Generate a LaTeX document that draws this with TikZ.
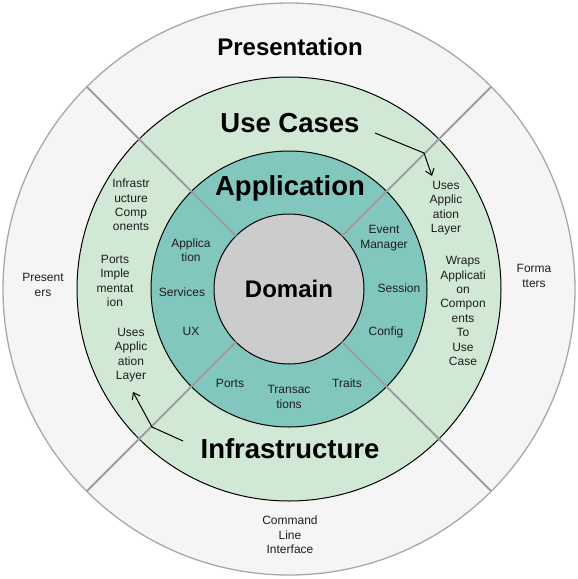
\documentclass[tikz,border=0pt]{standalone}
\usepackage{fontspec}
\setmainfont{Liberation Sans}
\usetikzlibrary{arrows.meta}
\definecolor{outerfill}{HTML}{F5F5F5}
\definecolor{outerdraw}{HTML}{A8A8A8}
\definecolor{divgrey}{HTML}{9E9E9E}
\definecolor{greenfill}{HTML}{D0E8D4}
\definecolor{tealfill}{HTML}{82C7BD}
\definecolor{domainfill}{HTML}{CCCCCC}
\definecolor{textdark}{HTML}{1E1E1E}
\begin{document}
\begin{tikzpicture}[x=1pt,y=-1pt,
  ring/.style={circle, inner sep=0pt, outer sep=0pt, draw=black, line width=1pt},
  divider/.style={draw=divgrey, line width=2pt},
  bigtitle/.style={font=\fontsize{27.5}{30}\selectfont\bfseries, anchor=base, inner sep=0pt},
  midtitle/.style={font=\fontsize{24}{27}\selectfont\bfseries, anchor=base, inner sep=0pt},
  small/.style={font=\fontsize{12}{14.4}\selectfont, align=center, inner sep=0pt, text=textdark},
  pointer/.style={draw=black, line width=1pt, -{Straight Barb[length=6pt, width=9pt]}}
]
\useasboundingbox (0,0) rectangle (578,579);
\coordinate (c) at (289,289);
\node[ring, draw=outerdraw, line width=1.3pt, fill=outerfill, minimum size=572pt] (outer) at (c) {};
\node[ring, fill=greenfill, minimum size=424pt] (green) at (c) {};
\node[ring, fill=tealfill, minimum size=276pt] (teal) at (c) {};
\node[ring, fill=domainfill, minimum size=150pt] (domain) at (c) {};
\draw[divider] (outer.45) -- (domain.45);
\draw[divider] (outer.135) -- (domain.135);
\draw[divider] (outer.225) -- (domain.225);
\draw[divider] (outer.315) -- (domain.315);

% titles
\node[midtitle] (presentation) at (290,55) {Presentation};
\node[bigtitle] (usecases) at (290,132) {Use Cases};
\node[bigtitle] (application) at (290,195) {Application};
\node[midtitle] (domaintitle) at (289,297) {Domain};
\node[bigtitle] (infra) at (290,458) {Infrastructure};

% outer ring texts
\node[small] (presenters) at (43,285) {Present\\ers};
\node[small] (formatters) at (534,276) {Forma\\tters};
\node[small] (cli) at (290,535) {Command\\Line\\Interface};

% green ring, left
\node[small] (infracomp) at (131,205) {Infrastr\\ucture\\Comp\\onents};
\node[small] (portsimpl) at (115,281) {Ports\\Imple\\mentat\\ion};
\node[small] (usesL) at (131,355) {Uses\\Applic\\ation\\Layer};

% green ring, right
\node[small] (usesR) at (446,208) {Uses\\Applic\\ation\\Layer};
\node[small] (wraps) at (463,311) {Wraps\\Applicati\\on\\Compon\\ents\\To\\Use\\Case};

% teal ring
\node[small] (appl) at (191,250) {Applica\\tion};
\node[small] (services) at (182,292) {Services};
\node[small] (ux) at (191,331) {UX};
\node[small] (ports) at (230,383) {Ports};
\node[small] (transac) at (289,397) {Transac\\tions};
\node[small] (traits) at (347,383) {Traits};
\node[small] (event) at (384,238) {Event\\Manager};
\node[small] (session) at (399,288) {Session};
\node[small] (config) at (386,332) {Config};

% pointers
\coordinate (ucstart) at (375,133);
\coordinate (ucbend) at (424,153);
\coordinate (ucend) at (432,176);
\coordinate (infstart) at (183,441);
\coordinate (infbend) at (152,427);
\coordinate (infend) at (133,392);
\draw[pointer] (ucstart) -- (ucbend) -- (ucend);
\draw[pointer] (infstart) -- (infbend) -- (infend);
\end{tikzpicture}
\end{document}
